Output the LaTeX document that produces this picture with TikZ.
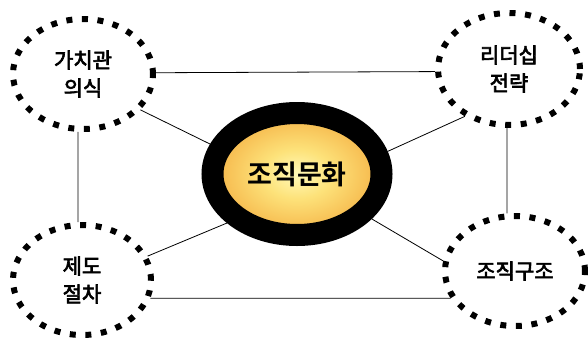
\documentclass[tikz,border=0pt]{standalone}
\usepackage{fontspec}
\newfontfamily\kr[FakeBold=3]{Noto Sans CJK KR}
\newfontfamily\krb{Noto Sans CJK KR Bold}
\usetikzlibrary{shapes.geometric}
\definecolor{coreA}{RGB}{255,250,185}
\definecolor{coreB}{RGB}{253,226,122}
\definecolor{coreC}{RGB}{246,186,78}
\definecolor{coreD}{RGB}{238,152,48}
\pgfdeclareradialshading{coreshade}{\pgfpoint{0bp}{0bp}}{color(0bp)=(coreA); color(10bp)=(coreB); color(23bp)=(coreC); color(36bp)=(coreD); color(50bp)=(coreD)}
\begin{document}
\begin{tikzpicture}[x=1pt,y=-1pt,
  dotell/.style={ellipse, draw=black, line width=6pt, dash pattern=on 6pt off 9.6pt,
    inner sep=0pt, align=center, font=\kr\fontsize{21}{28}\selectfont},
  core/.style={ellipse, draw=black, line width=22pt, inner sep=0pt,
    minimum width=169pt, minimum height=122pt,
    shade, shading=coreshade,
    font=\krb\fontsize{27}{30}\selectfont},
  link/.style={draw=black, line width=0.8pt}]
\useasboundingbox (0,0) rectangle (588,343);
\node[dotell, minimum width=140pt, minimum height=110pt] (tl) at (83,74) {가치관\\의식};
\node[dotell, minimum width=142pt, minimum height=112pt] (tr) at (509,69) {리더십\\전략};
\node[dotell, minimum width=138pt, minimum height=110pt] (bl) at (82,280) {제도\\절차};
\node[dotell, minimum width=140pt, minimum height=110pt] (br) at (515,271) {조직구조};
\node[core] (c) at (297,174) {조직문화};
\draw[link] (tl.1.6) -- (tr.182.3);
\draw[link] (bl.-15.4) -- (br.203.6);
\draw[link] (tl.265) -- (bl.94);
\draw[link] (tr.268) -- (br.98);
\draw[link] (tl.-32) -- (c.161.8);
\draw[link] (tr.227.6) -- (c.14);
\draw[link] (bl.20) -- (c.215);
\draw[link] (br.172.7) -- (c.-31.6);
\end{tikzpicture}
\end{document}
